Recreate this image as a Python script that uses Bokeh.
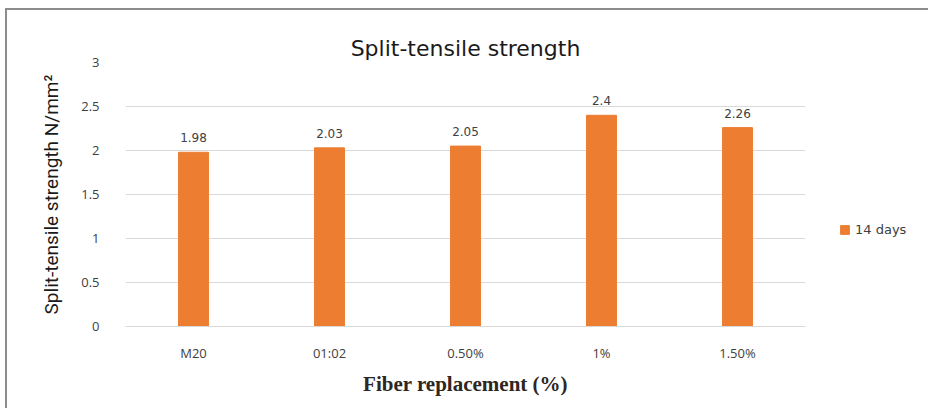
from bokeh.plotting import figure
from bokeh.models import ColumnDataSource, LabelSet, Legend, LegendItem, Range1d, FixedTicker, Title
from bokeh.embed import file_html
from bokeh.resources import INLINE
from bokeh.core.properties import value

categories = ["M20", "01:02", "0.50%", "1%", "1.50%"]
values_14 = [1.98, 2.03, 2.05, 2.4, 2.26]
value_labels = ["1.98", "2.03", "2.05", "2.4", "2.26"]
y_ticks = [0, 0.5, 1, 1.5, 2, 2.5, 3]

src = ColumnDataSource(dict(cat=categories, val=values_14, lab=value_labels))

p = figure(x_range=categories, y_range=Range1d(0, 3),
           frame_width=680, frame_height=264,
           min_border_left=118, min_border_right=123, min_border_top=52, min_border_bottom=84,
           output_backend="svg", toolbar_location=None,
           margin=(8, 0, 0, 5),
           styles={"border-top": "2px solid #8c8c8c", "border-left": "2px solid #8c8c8c"})
p.outline_line_color = None
p.background_fill_color = "white"
p.border_fill_color = "white"

r = p.vbar(x="cat", top="val", width=0.22, source=src, color="#ED7D31")

labels = LabelSet(x="cat", y="val", text="lab", source=src, y_offset=10,
                  text_align="center", text_baseline="bottom",
                  text_font=value("DejaVu Sans"), text_font_size="12px", text_color="#404040")
p.add_layout(labels)

p.title.text = "Split-tensile strength"
p.title.align = "center"
p.title.vertical_align = "top"
p.title.text_font = "DejaVu Sans"
p.title.text_font_size = "22px"
p.title.text_font_style = "normal"
p.title.text_color = "#1a1a1a"
p.title.standoff = 0

# invisible spacer between the title and the frame
spacer = Title(text=".", text_font_size="12px", text_alpha=0, standoff=3)
p.add_layout(spacer, "above")

p.yaxis.ticker = FixedTicker(ticks=y_ticks)
p.yaxis.major_label_overrides = {0: "0", 0.5: "0.5", 1: "1", 1.5: "1.5", 2: "2", 2.5: "2.5", 3: "3"}
p.yaxis.axis_line_color = None
p.yaxis.major_tick_line_color = None
p.yaxis.minor_tick_line_color = None
p.yaxis.major_label_standoff = 20
p.yaxis.major_label_text_font = "Open Sans"
p.yaxis.major_label_text_font_size = "13px"
p.yaxis.major_label_text_color = "#404040"
p.yaxis.axis_label = "Split-tensile strength N/mm²"
p.yaxis.axis_label_text_font = "Roboto"
p.yaxis.axis_label_text_font_size = "19px"
p.yaxis.axis_label_text_font_style = "normal"
p.yaxis.axis_label_text_color = "#1a1a1a"
p.yaxis.axis_label_standoff = 15

p.xaxis.axis_line_color = "#d9d9d9"
p.xaxis.major_tick_line_color = None
p.xaxis.minor_tick_line_color = None
p.xaxis.major_label_standoff = 11
p.xaxis.major_label_text_font = "Open Sans"
p.xaxis.major_label_text_font_size = "13px"
p.xaxis.major_label_text_color = "#404040"
p.xaxis.axis_label = "Fiber replacement (%)"
p.xaxis.axis_label_text_font = "Liberation Serif"
p.xaxis.axis_label_text_font_size = "21px"
p.xaxis.axis_label_text_font_style = "bold"
p.xaxis.axis_label_text_color = "#2e2620"
p.xaxis.axis_label_standoff = 7

p.xgrid.grid_line_color = None
p.ygrid.grid_line_color = "#d9d9d9"
p.ygrid.grid_line_width = 1

legend = Legend(items=[LegendItem(label="14 days", renderers=[r])],
                location=(34, 89), border_line_color=None, background_fill_alpha=0,
                label_text_font="DejaVu Sans", label_text_font_size="13px", label_text_color="#404040",
                glyph_width=11, glyph_height=11, padding=2, label_standoff=5, margin=0)
p.add_layout(legend, "right")

open("out.html", "w").write(file_html(p, INLINE))
